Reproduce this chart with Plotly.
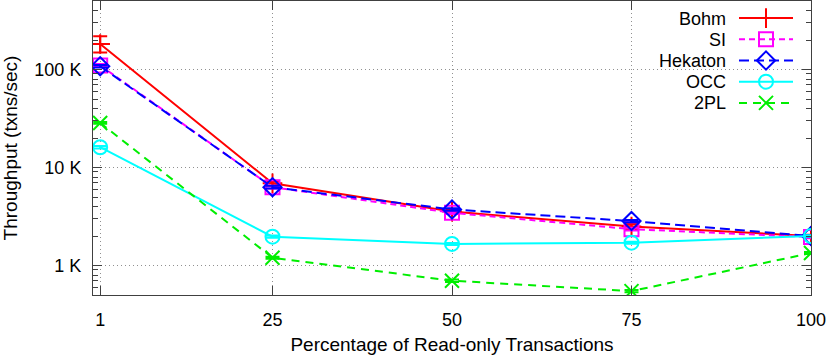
import plotly.graph_objects as go

# Percentage of read-only transactions
read_only_pct = [1, 25, 50, 75, 100]

# Throughput (txns/sec) per protocol
bohm = [182000, 6900, 3550, 2500, 2000]
bohm_err_up = [36000, 400, 150, 150, 60]
bohm_err_dn = [33000, 400, 150, 150, 60]
si = [110000, 6300, 3450, 2350, 1950]
si_err = [4000, 200, 100, 80, 50]
hekaton = [108000, 6300, 3730, 2840, 2000]
hekaton_err = [3000, 200, 100, 80, 50]
occ = [16100, 1970, 1660, 1710, 2000]
occ_err = [500, 50, 40, 40, 40]
twopl = [28500, 1200, 700, 548, 1340]
twopl_err = [600, 30, 20, 15, 30]

protocols = ["Bohm", "SI", "Hekaton", "OCC", "2PL"]

y_tickvals = [1000, 10000, 100000]
y_ticktext = ["1 K", "10 K", "100 K"]
x_tickvals = [1, 25, 50, 75, 100]

FONT = "Liberation Sans, Arial, sans-serif"
W, H = 830, 359
MARGIN = dict(l=93, r=19, t=1, b=64)
PLOT_H = H - MARGIN["t"] - MARGIN["b"]
PLOT_W = W - MARGIN["l"] - MARGIN["r"]

styles = [
    ("#ff0000", "solid", "cross-thin-open"),
    ("#ff00ff", "6px,4px", "square-open"),
    ("#0000ff", "10px,5px", "diamond-open"),
    ("#00ffff", "solid", "circle-open"),
    ("#00ee00", "8px,6px", "x-thin-open"),
]
values = [bohm, si, hekaton, occ, twopl]
errs_up = [bohm_err_up, si_err, hekaton_err, occ_err, twopl_err]
errs_dn = [bohm_err_dn, si_err, hekaton_err, occ_err, twopl_err]

fig = go.Figure()
for name, vals, up, dn, (color, dash, symbol) in zip(protocols, values, errs_up, errs_dn, styles):
    fig.add_trace(
        go.Scatter(
            x=read_only_pct,
            y=vals,
            name="",
            legendgroup=name,
            mode="lines+markers",
            line=dict(color=color, width=2, dash=dash),
            marker=dict(symbol=symbol, size=14, color=color, line=dict(color=color, width=2)),
            error_y=dict(type="data", array=up, arrayminus=dn, color=color, thickness=2, width=7),
        )
    )

# gnuplot-style key: labels right-aligned to the left of the samples
key_top = 19
key_step = 21
for i, name in enumerate(protocols):
    fig.add_annotation(
        text=name,
        xref="paper",
        yref="paper",
        x=(728 - MARGIN["l"]) / PLOT_W,
        y=1 - (key_top + i * key_step - MARGIN["t"]) / PLOT_H,
        xanchor="right",
        yanchor="middle",
        showarrow=False,
        font=dict(size=18, color="black"),
    )

minor_vals = [m * 10**e for e in range(2, 6) for m in range(2, 10)]

fig.update_layout(
    width=W,
    height=H,
    margin=MARGIN,
    paper_bgcolor="white",
    plot_bgcolor="white",
    font=dict(family=FONT, size=18, color="black"),
    showlegend=True,
    legend=dict(
        x=(734 - MARGIN["l"]) / PLOT_W,
        y=1 - (2.5 - MARGIN["t"]) / PLOT_H,
        xanchor="left",
        yanchor="top",
        bgcolor="rgba(0,0,0,0)",
        font=dict(size=14),
        itemwidth=54,
        tracegroupgap=0,
    ),
)
axis_common = dict(
    ticks="inside",
    ticklen=9,
    tickcolor="#404040",
    showline=True,
    linecolor="#404040",
    linewidth=1,
    mirror="ticks",
    showgrid=True,
    gridcolor="#909090",
    griddash="1px,3px",
    gridwidth=1,
    zeroline=False,
    automargin=False,
)
fig.update_xaxes(
    **axis_common,
    range=[0, 100],
    tickvals=x_tickvals,
    ticklabelstandoff=8,
    title=dict(text="Percentage of Read-only Transactions", standoff=9, font=dict(size=19)),
)
fig.update_yaxes(
    **axis_common,
    type="log",
    range=[2.699, 5.699],
    tickvals=y_tickvals,
    ticktext=y_ticktext,
    ticklabelstandoff=7,
    minor=dict(tickvals=minor_vals, ticks="inside", ticklen=5, tickcolor="#404040", showgrid=False),
    title=dict(text="Throughput (txns/sec)", standoff=14, font=dict(size=19)),
)

fig.write_html(
    "out.html",
    config={"displayModeBar": False},
    post_script="document.body.style.margin='0';",
)
